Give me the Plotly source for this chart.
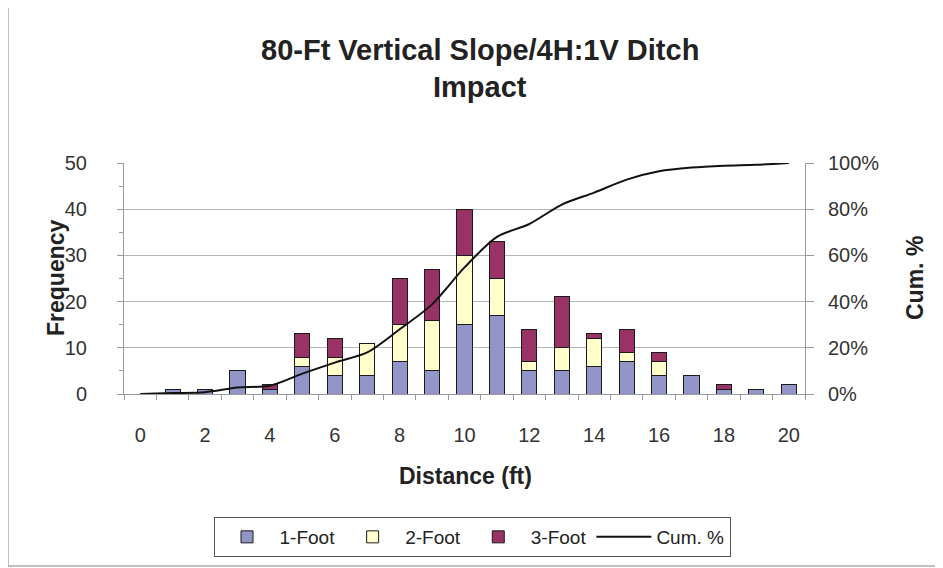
import plotly.graph_objects as go

distance = list(range(0, 21))
foot1 = [0, 1, 1, 5, 1, 6, 4, 4, 7, 5, 15, 17, 5, 5, 6, 7, 4, 4, 1, 1, 2]
foot2 = [0, 0, 0, 0, 0, 2, 4, 7, 8, 11, 15, 8, 2, 5, 6, 2, 3, 0, 0, 0, 0]
foot3 = [0, 0, 0, 0, 1, 5, 4, 0, 10, 11, 10, 8, 7, 11, 1, 5, 2, 0, 1, 0, 0]
cum_pct = [0.0, 0.004, 0.008, 0.028, 0.036, 0.088, 0.136, 0.18, 0.28, 0.388, 0.548,
           0.68, 0.736, 0.82, 0.872, 0.928, 0.964, 0.98, 0.988, 0.992, 1.0]
x_tick_vals = [0, 2, 4, 6, 8, 10, 12, 14, 16, 18, 20]

FONT = "Liberation Sans, Arial, sans-serif"
OFF = 8  # page body offset
W, H = 943, 568
# desired plot-area edges in screen pixels
SL, SR, ST, SB = 124, 805, 163, 394
L, T = SL - OFF, ST - OFF
R, B = W - (SR - OFF), H - (SB - OFF)
pw, ph = W - L - R, H - T - B

def px(xs):
    return (xs - OFF - L) / pw

def py(ys):
    return (H - B - (ys - OFF)) / ph

fig = go.Figure()
line_style = dict(color="#1a1a1a", width=1)
fig.add_trace(go.Bar(x=distance, y=foot1, name="1-Foot", marker=dict(color="#9195c8", line=line_style), width=0.47))
fig.add_trace(go.Bar(x=distance, y=foot2, name="2-Foot", marker=dict(color="#ffffcc", line=line_style), width=0.47))
fig.add_trace(go.Bar(x=distance, y=foot3, name="3-Foot", marker=dict(color="#993366", line=line_style), width=0.47))
fig.add_trace(go.Scatter(x=distance, y=cum_pct, name="Cum. %", mode="lines", yaxis="y2",
                         line=dict(color="#111111", width=2, shape="spline", smoothing=0.8)))

tickfont = dict(size=20, color="#333333")
fig.update_layout(
    width=W, height=H,
    margin=dict(l=L, r=R, t=T, b=B),
    barmode="stack",
    paper_bgcolor="white", plot_bgcolor="white",
    font=dict(family=FONT, size=18, color="#333333"),
    showlegend=True,
    legend=dict(orientation="h", x=px(472), y=py(537), xanchor="center", yanchor="middle",
                bordercolor="#555555", borderwidth=1, font=dict(size=19, color="#222222"),
                itemwidth=55, traceorder="normal"),
    xaxis=dict(range=[-0.5, 20.5], tickmode="array", tickvals=x_tick_vals,
               ticktext=[str(v) for v in x_tick_vals], ticks="", showgrid=False,
               showline=True, linecolor="#999999", linewidth=1, zeroline=False,
               tickfont=tickfont, ticklabelstandoff=23,
               minor=dict(tickmode="linear", tick0=0.5, dtick=1, ticks="outside", ticklen=5,
                          tickcolor="#999999", showgrid=False)),
    yaxis=dict(range=[0, 50], tickmode="linear", tick0=0, dtick=10, ticks="outside", ticklen=6,
               tickcolor="#999999", showgrid=True, gridcolor="#b5b5b5", gridwidth=1,
               showline=True, linecolor="#999999", zeroline=False,
               tickfont=tickfont, ticklabelstandoff=26,
               minor=dict(tickmode="linear", tick0=5, dtick=10, ticks="outside", ticklen=4,
                          tickcolor="#999999", showgrid=False)),
    yaxis2=dict(range=[0, 1], overlaying="y", side="right", tickmode="linear", tick0=0, dtick=0.2,
                tickformat=".0%", ticks="outside", ticklen=8, tickcolor="#999999",
                showgrid=False, showline=True, linecolor="#999999", zeroline=False,
                tickfont=tickfont, ticklabelstandoff=10),
    annotations=[
        dict(text="<b>80-Ft Vertical Slope/4H:1V Ditch</b>", x=px(480), y=py(50), xref="paper", yref="paper",
             showarrow=False, font=dict(size=29, color="#222222"), xanchor="center", yanchor="middle"),
        dict(text="<b>Impact</b>", x=px(480), y=py(87), xref="paper", yref="paper",
             showarrow=False, font=dict(size=29, color="#222222"), xanchor="center", yanchor="middle"),
        dict(text="<b>Frequency</b>", x=px(56), y=py(278), xref="paper", yref="paper", textangle=-90,
             showarrow=False, font=dict(size=23, color="#222222"), xanchor="center", yanchor="middle"),
        dict(text="<b>Cum. %</b>", x=px(915), y=py(278), xref="paper", yref="paper", textangle=-90,
             showarrow=False, font=dict(size=23, color="#222222"), xanchor="center", yanchor="middle"),
        dict(text="<b>Distance (ft)</b>", x=px(465), y=py(476), xref="paper", yref="paper",
             showarrow=False, font=dict(size=23, color="#222222"), xanchor="center", yanchor="middle"),
    ],
    shapes=[
        dict(type="rect", xref="paper", yref="paper", x0=px(8), x1=px(940), y0=py(566), y1=py(7),
             line=dict(color="#aaaaaa", width=1.5), fillcolor="rgba(0,0,0,0)", layer="below"),
    ],
)

fig.write_html("out.html")
